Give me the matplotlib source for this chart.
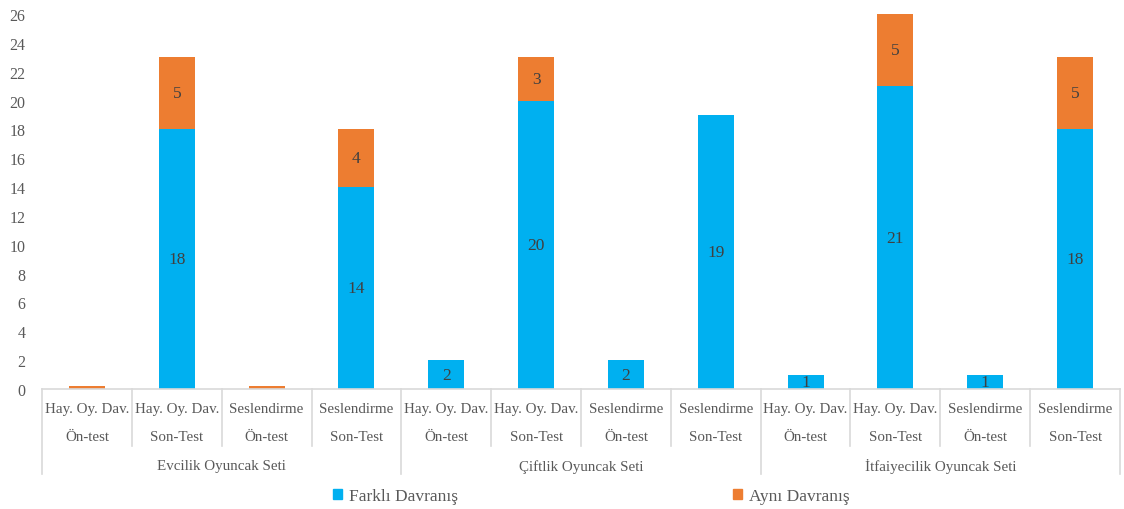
import matplotlib
matplotlib.use("Agg")
import matplotlib.pyplot as plt
from matplotlib.lines import Line2D
from matplotlib.patches import Patch
import matplotlib.transforms as mtransforms

# ---- data ----
row1_labels = ["Hay. Oy. Dav.", "Hay. Oy. Dav.", "Seslendirme", "Seslendirme"] * 3
row2_labels = ["Ön-test", "Son-Test", "Ön-test", "Son-Test"] * 3
groups = ["Evcilik Oyuncak Seti", "Çiftlik Oyuncak Seti", "İtfaiyecilik Oyuncak Seti"]
farkli = [0, 18, 0, 14, 2, 20, 2, 19, 1, 21, 1, 18]
ayni = [0.2, 5, 0.2, 4, 0, 3, 0, 0, 0, 5, 0, 5]
series_names = ["Farklı Davranış", "Aynı Davranış"]
yticks = list(range(0, 27, 2))

BLUE = "#00B0F0"
ORANGE = "#ED7D31"
GRAY = "#595959"
LINE = "#D9D9D9"
FONT = ["Liberation Serif", "DejaVu Serif"]
plt.rcParams["font.family"] = FONT

W, H = 1124, 510
fig = plt.figure(figsize=(W / 100, H / 100), dpi=100)
left, right, y0, ytop = 42, 1120, 390, 15
ax = fig.add_axes([left / W, (H - y0) / H, (right - left) / W, (y0 - ytop) / H])

x = list(range(len(farkli)))
bw = 0.4
ax.bar(x, farkli, width=bw, color=BLUE, label=series_names[0], zorder=2)
ax.bar(x, ayni, width=bw, bottom=farkli, color=ORANGE, label=series_names[1], zorder=2)

for i in x:
    if farkli[i] >= 1:
        ax.text(i, farkli[i] / 2, f"{farkli[i]:g}", ha="center", va="center",
                fontsize=12.5, color="#404040")
    if ayni[i] >= 1:
        ax.text(i, farkli[i] + ayni[i] / 2, f"{ayni[i]:g}", ha="center", va="center",
                fontsize=12.5, color="#404040")

ax.set_xlim(-0.5, len(x) - 0.5)
ax.set_ylim(0, 26)
ax.set_yticks(yticks)
ax.tick_params(axis="y", length=0, labelsize=11.5, labelcolor=GRAY, pad=12)
ax.set_xticks([])
for s in ["top", "right", "left"]:
    ax.spines[s].set_visible(False)
ax.spines["bottom"].set_color(LINE)
ax.spines["bottom"].set_linewidth(1.2)

ph = y0 - ytop
def fy(ypix):
    return (y0 - ypix) / ph

trans = mtransforms.blended_transform_factory(ax.transData, ax.transAxes)
for i in x:
    ax.text(i, fy(410), row1_labels[i], transform=trans, ha="center", va="center",
            fontsize=10.8, color=GRAY)
    ax.text(i, fy(438), row2_labels[i], transform=trans, ha="center", va="center",
            fontsize=10.8, color=GRAY)
for g, name in enumerate(groups):
    ax.text(g * 4 + 1.5, fy(467), name, transform=trans, ha="center", va="center",
            fontsize=10.8, color=GRAY)

for k in range(len(x) + 1):
    xb = k - 0.5
    bottom = fy(475) if k % 4 == 0 else fy(447)
    ax.add_line(Line2D([xb, xb], [0, bottom], transform=trans, color=LINE,
                       lw=1.2, clip_on=False))

handles = [Patch(color=BLUE), Patch(color=ORANGE)]
leg = fig.legend(handles, series_names, loc="center", bbox_to_anchor=(0.526, (H - 497) / H),
                 ncol=2, frameon=False, fontsize=12.5, handlelength=0.55, handleheight=0.55,
                 handletextpad=0.4, columnspacing=15.8)
for t in leg.get_texts():
    t.set_color(GRAY)

fig.savefig("out.png", dpi=100)
